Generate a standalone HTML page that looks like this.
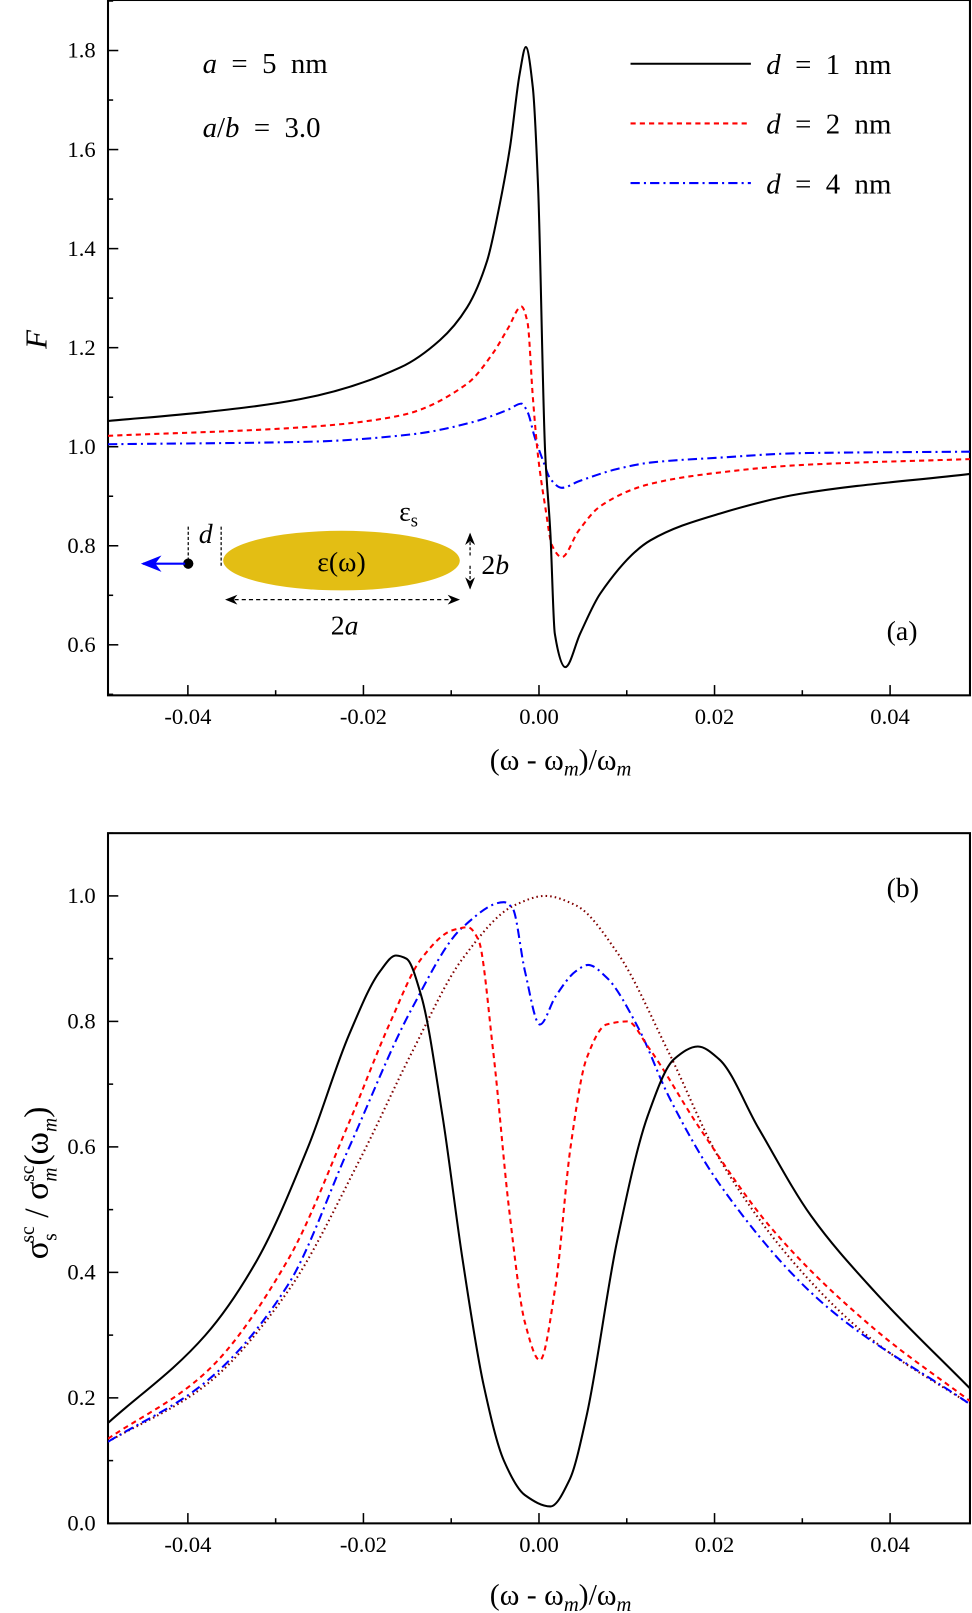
<!DOCTYPE html>
<html><head><meta charset="utf-8"><style>
body{margin:0;background:#fff}
svg{display:block;font-family:"Liberation Serif","DejaVu Serif",serif}
.m{word-spacing:7px}
</style></head><body>
<svg id="chart" width="972" height="1613" viewBox="0 0 972 1613">
<defs>
<marker id="ah" markerWidth="10" markerHeight="8" refX="9" refY="4" orient="auto"><path d="M0,0 L10,4 L0,8 L3,4 Z" fill="#000"/></marker>
<marker id="ahb" markerWidth="10" markerHeight="8" refX="9" refY="4" orient="auto"><path d="M0,0 L10,4 L0,8 L3,4 Z" fill="#00f"/></marker>
</defs>
<g transform="scale(1.0286)">
<g id="panelA"></g>
<g id="panelB"></g>
<g>
<ellipse cx="332" cy="545" rx="115" ry="29" fill="#E3BE14"/>
<text x="332" y="555" font-size="27" text-anchor="middle">ε(ω)</text>
<circle cx="183" cy="548" r="5" fill="#000"/>
<line x1="180" y1="548" x2="139" y2="548" stroke="#00f" stroke-width="2" marker-end="url(#ahb)"/>
<line x1="183" y1="512" x2="183" y2="545" stroke="#000" stroke-width="1.2" stroke-dasharray="3,2"/>
<line x1="215" y1="512" x2="215" y2="550" stroke="#000" stroke-width="1.2" stroke-dasharray="3,2"/>
<text x="200" y="528" font-size="27" font-style="italic" text-anchor="middle">d</text>
<text x="388" y="506" font-size="27">ε<tspan font-size="18" dy="6">s</tspan></text>
<line x1="457" y1="540" x2="457" y2="519" stroke="#000" stroke-width="1.2" stroke-dasharray="3,2" marker-end="url(#ah)"/>
<line x1="457" y1="550" x2="457" y2="572" stroke="#000" stroke-width="1.2" stroke-dasharray="3,2" marker-end="url(#ah)"/>
<text x="468" y="558" font-size="27">2<tspan font-style="italic">b</tspan></text>
<line x1="330" y1="583" x2="220" y2="583" stroke="#000" stroke-width="1.2" stroke-dasharray="4,3" marker-end="url(#ah)"/>
<line x1="334" y1="583" x2="446" y2="583" stroke="#000" stroke-width="1.2" stroke-dasharray="4,3" marker-end="url(#ah)"/>
<text x="335" y="617" font-size="27" text-anchor="middle">2<tspan font-style="italic">a</tspan></text>
</g>
<text class="m" x="197" y="71" font-size="28"><tspan font-style="italic">a</tspan> = 5 nm</text>
<text class="m" x="197" y="133" font-size="28"><tspan font-style="italic">a</tspan>/<tspan font-style="italic">b</tspan> = 3.0</text>
<text x="862" y="622" font-size="27">(a)</text>
<text x="862" y="872" font-size="27">(b)</text>
<g>
<line x1="613" y1="62" x2="730" y2="62" stroke="#000" stroke-width="2"/>
<text class="m" x="745" y="72" font-size="28"><tspan font-style="italic">d</tspan> = 1 nm</text>
<line x1="613" y1="120" x2="730" y2="120" stroke="#f00" stroke-width="2" stroke-dasharray="5,4"/>
<text class="m" x="745" y="130" font-size="28"><tspan font-style="italic">d</tspan> = 2 nm</text>
<line x1="613" y1="178" x2="730" y2="178" stroke="#00f" stroke-width="2" stroke-dasharray="9,4,2,4"/>
<text class="m" x="745" y="188" font-size="28"><tspan font-style="italic">d</tspan> = 4 nm</text>
</g>
<text x="35" y="340" font-size="30" font-style="italic" text-anchor="middle" transform="rotate(-90 35 330)">F</text>
<text x="545" y="748" font-size="29" text-anchor="middle">(ω - ω<tspan font-style="italic" font-size="20" dy="6">m</tspan><tspan dy="-6">)/ω</tspan><tspan font-style="italic" font-size="20" dy="6">m</tspan></text>
<text x="545" y="1560" font-size="29" text-anchor="middle">(ω - ω<tspan font-style="italic" font-size="20" dy="6">m</tspan><tspan dy="-6">)/ω</tspan><tspan font-style="italic" font-size="20" dy="6">m</tspan></text>
<text x="0" y="0" font-size="33" text-anchor="middle" transform="translate(46 1150) rotate(-90)">σ<tspan font-size="19" dy="9">s</tspan><tspan font-size="19" dx="-9" dy="-22">sc</tspan><tspan dy="13"> / σ</tspan><tspan font-size="19" font-style="italic" dy="9">m</tspan><tspan font-size="19" dx="-14" dy="-22">sc</tspan><tspan dy="13">(ω</tspan><tspan font-size="19" font-style="italic" dy="9">m</tspan><tspan dy="-9">)</tspan></text>
</g>
</svg>
<script>
const xTicks=[-0.04,-0.02,0.00,0.02,0.04];
const xTickLabels=["-0.04","-0.02","0.00","0.02","0.04"];
const yTicksA=[0.6,0.8,1.0,1.2,1.4,1.6,1.8];
const yTickLabelsA=["0.6","0.8","1.0","1.2","1.4","1.6","1.8"];
const yTicksB=[0.0,0.2,0.4,0.6,0.8,1.0];
const yTickLabelsB=["0.0","0.2","0.4","0.6","0.8","1.0"];

const a1x=[-0.0491,-0.038,-0.0272,-0.0158,-0.0113,-0.0082,-0.0059,-0.0045,-0.0033,-0.0022,-0.0015,-0.0007,-0.0001,0.0007,0.0013,0.0018,0.0030,0.0047,0.0070,0.0127,0.0206,0.0298,0.0491];
const a1y=[1.052,1.07,1.096,1.160,1.215,1.281,1.376,1.487,1.605,1.753,1.807,1.725,1.523,0.99,0.825,0.623,0.555,0.623,0.704,0.811,0.865,0.905,0.945];
const a2x=[-0.0491,-0.0263,-0.0158,-0.0082,-0.0052,-0.0035,-0.002,-0.0013,-0.0007,-0.0001,0.0007,0.0015,0.0026,0.0045,0.0070,0.0127,0.0206,0.0298,0.0491];
const a2y=[1.022,1.04,1.063,1.127,1.19,1.24,1.283,1.25,1.10,0.98,0.88,0.80,0.777,0.83,0.88,0.925,0.948,0.963,0.975];
const a4x=[-0.0491,-0.0263,-0.0145,-0.0075,-0.0035,-0.002,-0.0013,-0.0005,0.0005,0.0013,0.0026,0.0045,0.0089,0.0127,0.0206,0.0298,0.0491];
const a4y=[1.005,1.01,1.025,1.05,1.075,1.087,1.07,1.02,0.97,0.935,0.917,0.93,0.955,0.968,0.978,0.987,0.99];

const b1x=[-0.0491,-0.038,-0.0321,-0.0263,-0.0216,-0.0181,-0.0163,-0.0151,-0.0134,-0.011,-0.0087,-0.0063,-0.004,-0.0016,0.0013,0.0035,0.0054,0.0089,0.0124,0.0154,0.0181,0.0205,0.025,0.031,0.0382,0.0491];
const b1y=[0.16,0.30,0.42,0.60,0.78,0.88,0.905,0.90,0.84,0.65,0.42,0.22,0.10,0.045,0.027,0.07,0.17,0.45,0.65,0.74,0.76,0.74,0.63,0.49,0.37,0.215];
const b2x=[-0.0491,-0.038,-0.0286,-0.0216,-0.0169,-0.0134,-0.0099,-0.0081,-0.0069,-0.0052,-0.0034,-0.0016,0.0001,0.0019,0.0036,0.0054,0.0077,0.0101,0.0124,0.0183,0.0265,0.0382,0.0491];
const b2y=[0.135,0.24,0.42,0.64,0.80,0.90,0.945,0.95,0.93,0.75,0.50,0.32,0.26,0.38,0.60,0.74,0.795,0.80,0.76,0.63,0.47,0.31,0.195];
const b4x=[-0.0491,-0.038,-0.0286,-0.0216,-0.0145,-0.0087,-0.004,-0.003,-0.0016,0.0001,0.0019,0.0042,0.0056,0.0077,0.0113,0.0148,0.0206,0.0324,0.0491];
const b4y=[0.13,0.225,0.38,0.60,0.82,0.95,0.99,0.98,0.88,0.795,0.84,0.88,0.89,0.87,0.79,0.68,0.54,0.35,0.19];
const bmx=[-0.0491,-0.038,-0.0286,-0.0204,-0.0145,-0.0087,-0.0028,0.0007,0.0042,0.0089,0.0148,0.0206,0.030,0.0382,0.0491];
const bmy=[0.13,0.22,0.37,0.58,0.75,0.90,0.985,1.0,0.985,0.91,0.75,0.58,0.40,0.29,0.19];

const NS="http://www.w3.org/2000/svg";
const L=105,R=943,XMIN=-0.0491,XMAX=0.0491;
function sx(v){return L+(v-XMIN)/(XMAX-XMIN)*(R-L);}
function mkY(top,bot,vmin,vmax){return v=>bot-(v-vmin)/(vmax-vmin)*(bot-top);}
const syA=mkY(0,676,0.498,1.902);
const syB=mkY(810,1481,0,1.1);

function path(xs,ys,sy){
  const X=xs.map(sx),Y=ys.map(sy),n=X.length;
  const d=[],m=new Array(n);
  for(let i=0;i<n-1;i++)d.push((Y[i+1]-Y[i])/(X[i+1]-X[i]));
  m[0]=d[0];m[n-1]=d[n-2];
  for(let i=1;i<n-1;i++){
    if(d[i-1]*d[i]<=0)m[i]=0;
    else{const w1=2*(X[i+1]-X[i])+(X[i]-X[i-1]),w2=(X[i+1]-X[i])+2*(X[i]-X[i-1]);m[i]=(w1+w2)/(w1/d[i-1]+w2/d[i]);}
  }
  let s="M"+X[0].toFixed(1)+","+Y[0].toFixed(1);
  for(let i=0;i<n-1;i++){
    const h=X[i+1]-X[i];
    s+=" C"+(X[i]+h/3).toFixed(2)+","+(Y[i]+m[i]*h/3).toFixed(2)+" "+(X[i+1]-h/3).toFixed(2)+","+(Y[i+1]-m[i+1]*h/3).toFixed(2)+" "+X[i+1].toFixed(2)+","+Y[i+1].toFixed(2);
  }
  return s;
}
function el(tag,attrs,parent){const e=document.createElementNS(NS,tag);for(const k in attrs)e.setAttribute(k,attrs[k]);parent.appendChild(e);return e;}

function drawPanel(g,top,bot,sy,yT,yL,minorStep,ymin,ymax,series,clipId){
  const frame=el("rect",{x:L,y:top,width:R-L,height:bot-top,fill:"none",stroke:"#000","stroke-width":2},g);
  
  
  for(let k=-4;k<=4;k++){
    const v=k*0.01;const x=sx(v);const major=k%2===0;
    el("line",{x1:x,y1:bot,x2:x,y2:bot-(major?10:5),stroke:"#000","stroke-width":1.5},g);
  }
  xTicks.forEach((v,i)=>{
    const t=el("text",{x:sx(v),y:bot+28,"font-size":22,"text-anchor":"middle"},g);
    t.textContent=xTickLabels[i];
    
    
  });
  for(let k=Math.round(ymin/minorStep);k<=Math.round(ymax/minorStep);k++){
    const v=k*minorStep;const y=sy(v);if(y<top||y>bot)continue;
    const major=yT.some(t=>Math.abs(t-v)<1e-6);
    el("line",{x1:L,y1:y,x2:L+(major?10:5),y2:y,stroke:"#000","stroke-width":1.5},g);
  }
  yT.forEach((v,i)=>{
    const t=el("text",{x:93,y:sy(v)+7,"font-size":22,"text-anchor":"end"},g);
    t.textContent=yL[i];
    
    
  });
  const cp=el("clipPath",{id:clipId},g);el("rect",{x:L,y:top,width:R-L,height:bot-top},cp);
  series.forEach(s=>{
    const p=el("path",{d:path(s.x,s.y,sy),fill:"none",stroke:s.c,"stroke-width":2,"stroke-dasharray":s.dash||"none","clip-path":"url(#"+clipId+")"},g);
    
    
  });
}
drawPanel(document.getElementById("panelA"),0,676,syA,yTicksA,yTickLabelsA,0.1,0.5,1.9,[
  {x:a4x,y:a4y,c:"#00f",dash:"9,4,2,4",name:"series-d4"},
  {x:a2x,y:a2y,c:"#f00",dash:"5,4",name:"series-d2"},
  {x:a1x,y:a1y,c:"#000",name:"series-d1"}],"ca");
drawPanel(document.getElementById("panelB"),810,1481,syB,yTicksB,yTickLabelsB,0.1,0,1.1,[
  {x:bmx,y:bmy,c:"#800000",dash:"1.5,3",name:"series-isolated"},
  {x:b4x,y:b4y,c:"#00f",dash:"9,4,2,4",name:"series-d4"},
  {x:b2x,y:b2y,c:"#f00",dash:"5,4",name:"series-d2"},
  {x:b1x,y:b1y,c:"#000",name:"series-d1"}],"cb");
</script>
</body></html>
